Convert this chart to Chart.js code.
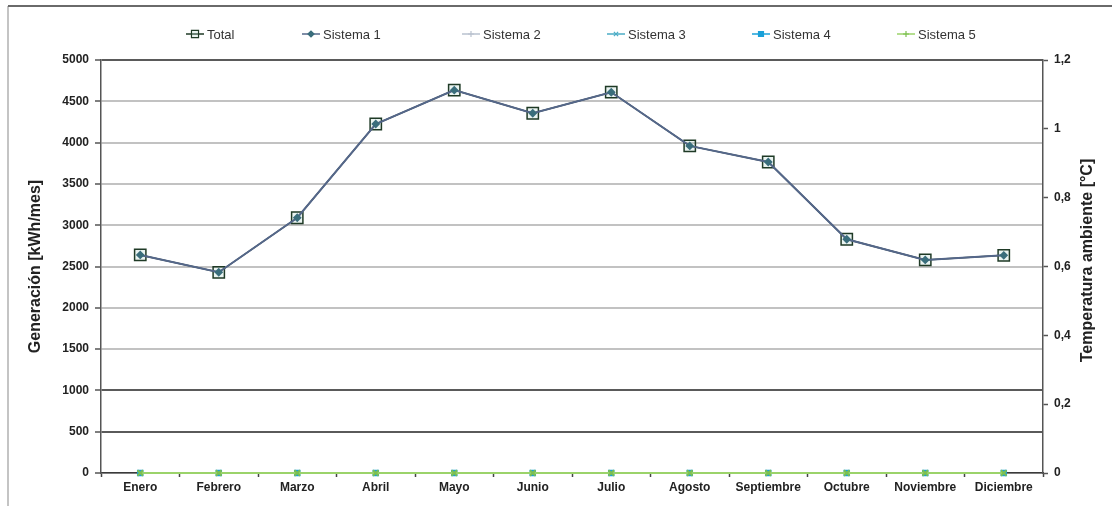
<!DOCTYPE html>
<html>
<head>
<meta charset="utf-8">
<script src="https://cdn.jsdelivr.net/npm/chart.js@4.4.1/dist/chart.umd.min.js"></script>
<style>
  html, body { margin: 0; padding: 0; background: #fff; }
  #wrap { width: 1112px; height: 506px; position: relative; }
</style>
</head>
<body>
<div id="wrap"><canvas id="genChart" width="1112" height="506"></canvas></div>
<script>
// data
const months = ["Enero", "Febrero", "Marzo", "Abril", "Mayo", "Junio", "Julio",
    "Agosto", "Septiembre", "Octubre", "Noviembre", "Diciembre"];
const total = [2640, 2430, 3090, 4225, 4635, 4355, 4610, 3960, 3765, 2830, 2580, 2635];
const sistema1 = [2640, 2430, 3090, 4225, 4635, 4355, 4610, 3960, 3765, 2830, 2580, 2635];
const sistema2 = [0, 0, 0, 0, 0, 0, 0, 0, 0, 0, 0, 0];
const sistema3 = [0, 0, 0, 0, 0, 0, 0, 0, 0, 0, 0, 0];
const sistema4 = [0, 0, 0, 0, 0, 0, 0, 0, 0, 0, 0, 0];
const sistema5 = [0, 0, 0, 0, 0, 0, 0, 0, 0, 0, 0, 0];

const FONT = "'Liberation Sans', Arial, sans-serif";
const rightTitle = 'Temperatura ambiente [°C]';

// symbol start x of each legend entry
const legendX = [186, 302, 462, 607, 752, 897];

const legendPlugin = {
    id: 'lineLegend',
    afterDraw(chart) {
        const ctx = chart.ctx;
        const y = 34;
        ctx.save();
        chart.data.datasets.forEach((ds, i) => {
            const x = legendX[i];
            ctx.strokeStyle = ds.borderColor;
            ctx.lineWidth = 1.5;
            ctx.beginPath();
            ctx.moveTo(x, y);
            ctx.lineTo(x + 18, y);
            ctx.stroke();
            ctx.fillStyle = ds.pointBackgroundColor;
            ctx.strokeStyle = ds.pointBorderColor;
            ctx.lineWidth = 1.2;
            Chart.helpers.drawPoint(ctx, {
                pointStyle: ds.legendStyle || ds.pointStyle,
                radius: ds.legendRadius,
                rotation: 0,
                borderWidth: 1.2
            }, x + 9, y);
            ctx.fillStyle = '#333';
            ctx.font = '13px ' + FONT;
            ctx.textBaseline = 'middle';
            ctx.textAlign = 'left';
            ctx.fillText(ds.label, x + 21, y + 1);
        });

        // right axis title reads bottom to top, like the left one
        const area = chart.chartArea;
        ctx.translate(1088, (area.top + area.bottom) / 2 - 6);
        ctx.rotate(-Math.PI / 2);
        ctx.fillStyle = '#222';
        ctx.font = 'bold 16px ' + FONT;
        ctx.textAlign = 'center';
        ctx.textBaseline = 'middle';
        ctx.fillText(rightTitle, 0, 0);
        ctx.restore();
    }
};

const framePlugin = {
    id: 'frame',
    beforeDraw(chart) {
        const ctx = chart.ctx;
        ctx.save();
        ctx.strokeStyle = '#c4c4c4';
        ctx.lineWidth = 2;
        ctx.beginPath();
        ctx.moveTo(8, 6);
        ctx.lineTo(8, 506);
        ctx.stroke();
        ctx.strokeStyle = '#6a6a6a';
        ctx.beginPath();
        ctx.moveTo(8, 6);
        ctx.lineTo(1112, 6);
        ctx.stroke();
        ctx.restore();
    }
};

function gridColor(c) {
    const v = c.tick ? c.tick.value : null;
    if (v === 500 || v === 1000 || v === 5000) return '#5a5a5a';
    return '#c2c2c2';
}

const ctx = document.getElementById('genChart').getContext('2d');
const chart = new Chart(ctx, {
    type: 'line',
    data: {
        labels: months,
        datasets: [
            {
                label: 'Total', data: total, order: 2,
                borderColor: '#1f3a26', borderWidth: 1.5,
                pointStyle: 'rect', pointRadius: 8, legendRadius: 5,
                pointBackgroundColor: 'rgba(170,210,200,0.25)', pointBorderColor: '#1f3a26',
                pointBorderWidth: 1.5
            },
            {
                label: 'Sistema 1', data: sistema1, order: 1,
                borderColor: '#55678a', borderWidth: 2,
                pointStyle: 'rectRot', pointRadius: 3, legendRadius: 3,
                pointBackgroundColor: '#3a6e7c', pointBorderColor: '#3a6e7c'
            },
            {
                label: 'Sistema 2', data: sistema2, order: 5, clip: false,
                borderColor: '#b9c2cf', borderWidth: 1.5,
                pointStyle: 'line', pointRadius: 3, legendRadius: 3, legendStyle: 'cross',
                pointBackgroundColor: '#b9c2cf', pointBorderColor: '#b9c2cf'
            },
            {
                label: 'Sistema 3', data: sistema3, order: 4, clip: false,
                borderColor: '#4bacc6', borderWidth: 1.5,
                pointStyle: 'crossRot', pointRadius: 3, legendRadius: 3,
                pointBackgroundColor: '#4bacc6', pointBorderColor: '#4bacc6'
            },
            {
                label: 'Sistema 4', data: sistema4, order: 3, clip: false,
                borderColor: '#1aa0d8', borderWidth: 1.5,
                pointStyle: 'rect', pointRadius: 3.5, legendRadius: 3.5,
                pointBackgroundColor: '#1aa0d8', pointBorderColor: '#1aa0d8'
            },
            {
                label: 'Sistema 5', data: sistema5, order: 0, clip: false,
                borderColor: '#9bd36a', borderWidth: 2,
                pointStyle: 'crossRot', pointRadius: 4, legendRadius: 3, legendStyle: 'cross',
                pointBackgroundColor: '#8cc860', pointBorderColor: '#7cbf52',
                pointBorderWidth: 2
            }
        ]
    },
    options: {
        responsive: false,
        animation: false,
        layout: { padding: { top: 60, left: 0, right: 0, bottom: 0 } },
        plugins: {
            legend: { display: false },
            tooltip: { enabled: false }
        },
        scales: {
            x: {
                offset: true,
                grid: {
                    drawOnChartArea: false, tickLength: 4,
                    tickColor: '#444', tickWidth: 1.5, offset: true
                },
                border: { color: '#3a3a3a', width: 1.5 },
                ticks: {
                    padding: 3, maxRotation: 0, autoSkip: false,
                    color: '#222', font: { family: FONT, size: 12, weight: 'bold' }
                },
                afterFit(s) { s.height = 33; }
            },
            y: {
                position: 'left',
                min: 0, max: 5000,
                ticks: {
                    stepSize: 500, padding: 6,
                    color: '#222', font: { family: FONT, size: 12, weight: 'bold' },
                    callback: v => String(v)
                },
                grid: {
                    color: gridColor, lineWidth: 2,
                    tickLength: 6, tickColor: '#555', tickWidth: 1.5
                },
                border: { color: '#555', width: 1.5 },
                title: {
                    display: true, text: 'Generación [kWh/mes]',
                    color: '#222', padding: { top: 26, bottom: 0 },
                    font: { family: FONT, size: 16, weight: 'bold' }
                },
                afterFit(s) { s.width = 101; }
            },
            y2: {
                position: 'right',
                min: 0, max: 1.2,
                ticks: {
                    stepSize: 0.2, padding: 6,
                    color: '#222', font: { family: FONT, size: 12, weight: 'bold' },
                    callback: v => String(Math.round(v * 10) / 10).replace('.', ',')
                },
                grid: {
                    drawOnChartArea: false,
                    tickLength: 5, tickColor: '#555', tickWidth: 1.5
                },
                border: { color: '#555', width: 1.5 },
                afterFit(s) { s.width = 69; }
            }
        }
    },
    plugins: [framePlugin, legendPlugin]
});
</script>
</body>
</html>
